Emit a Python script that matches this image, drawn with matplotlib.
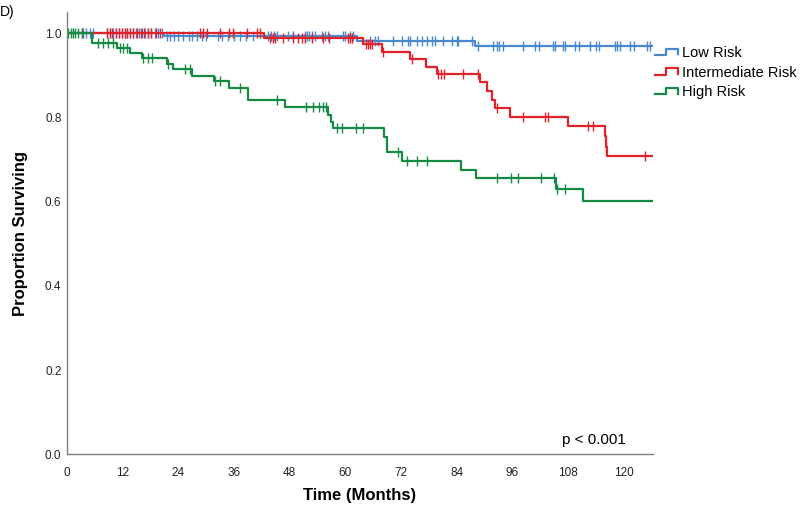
import numpy as np
import matplotlib
matplotlib.use("Agg")
import matplotlib.pyplot as plt
from matplotlib.lines import Line2D
from matplotlib.legend_handler import HandlerBase

plt.rcParams['font.family'] = ['Liberation Sans', 'DejaVu Sans']

# Kaplan-Meier curves (months, proportion surviving)
low_times = [0, 20.9, 62.6, 87.9]
low_surv = [1.0, 0.994, 0.982, 0.969]
low_censor = [3.5, 4.2, 5.0, 5.7, 8.6, 9.3, 10.0, 10.6, 11.2, 11.8, 12.4, 13.0,
              13.5, 14.2, 14.8, 15.5, 16.1, 16.8, 17.5, 18.2, 19.0, 19.7, 20.4,
              21.5, 22.3, 23.0, 24.0, 25.0, 26.3, 27.0, 28.0, 29.2, 30.0, 32.6,
              33.5, 34.6, 36.0, 37.2, 38.5, 40.0, 43.3, 44.0, 44.6, 45.3, 47.6,
              48.7, 51.3, 51.7, 52.2, 52.8, 53.4, 54.9, 55.6, 56.3, 59.5, 60.0,
              61.0, 61.6, 65.3, 66.4, 67.0, 70.3, 72.2, 73.5, 73.9, 75.4, 76.5,
              77.6, 78.7, 79.3, 81.0, 82.9, 84.0, 84.3, 87.2, 88.6, 91.9, 92.6,
              93.2, 94.0, 98.3, 100.9, 101.8, 104.8, 105.2, 107.0, 107.3, 109.5,
              110.4, 112.7, 114.0, 114.7, 118.1, 118.5, 119.2, 121.4, 122.2,
              125.1, 125.6]

int_times = [0, 42.5, 63.9, 67.8, 73.9, 77.4, 79.7, 89.0, 90.5, 91.6, 92.2,
             95.5, 108.0, 115.9, 116.2, 116.4]
int_surv = [1.0, 0.988, 0.974, 0.956, 0.939, 0.921, 0.903, 0.884, 0.863, 0.842,
            0.822, 0.802, 0.780, 0.755, 0.731, 0.708]
int_censor = [3.2, 8.6, 9.2, 9.8, 10.5, 11.2, 11.9, 12.4, 13.0, 13.6, 14.3, 15.0,
              16.0, 16.7, 17.5, 18.2, 19.2, 20.0, 28.7, 29.3, 30.1, 33.0, 35.0,
              35.8, 38.8, 40.9, 41.5, 43.8, 44.3, 44.8, 46.6, 48.7, 49.8, 50.6,
              51.2, 52.7, 55.2, 56.5, 60.6, 61.0, 61.5, 64.4, 64.8, 65.4, 65.8,
              68.2, 74.3, 80.0, 80.7, 81.3, 85.4, 88.5, 92.7, 98.3, 103.0, 103.6,
              112.3, 113.4, 116.2, 124.6]

high_times = [0, 5.4, 10.8, 13.6, 16.1, 21.5, 22.9, 26.9, 31.7, 34.9, 39.1, 46.9,
              56.3, 56.8, 57.3, 68.4, 68.9, 72.3, 84.9, 88.1, 105.3, 111.3]
high_surv = [1.0, 0.978, 0.964, 0.952, 0.941, 0.928, 0.915, 0.899, 0.887, 0.871,
             0.841, 0.824, 0.806, 0.789, 0.774, 0.754, 0.717, 0.697, 0.676, 0.656,
             0.629, 0.602]
high_censor = [0.3, 0.8, 1.2, 1.7, 2.4, 3.2, 6.7, 7.8, 8.8, 9.9, 11.4, 12.1, 12.9,
               16.4, 17.5, 18.3, 21.8, 25.4, 26.5, 31.9, 33.0, 37.3, 45.3, 51.5,
               53.1, 54.3, 55.2, 55.9, 58.1, 59.3, 62.3, 63.9, 71.4, 73.2, 75.4,
               77.5, 92.6, 95.6, 97.1, 102.1, 104.9, 105.7, 107.3]

end_time = 126.0
x_ticks = [0, 12, 24, 36, 48, 60, 72, 84, 96, 108, 120]
y_ticks = [0.0, 0.2, 0.4, 0.6, 0.8, 1.0]

groups = [
    ("Low Risk", low_times, low_surv, low_censor, "#4A88CC"),
    ("Intermediate Risk", int_times, int_surv, int_censor, "#E2222B"),
    ("High Risk", high_times, high_surv, high_censor, "#148A42"),
]


class StepHandler(HandlerBase):
    """Legend key drawn as a small step, like SPSS does"""

    def create_artists(self, legend, orig_handle, xdescent, ydescent,
                       width, height, fontsize, trans):
        x0 = -xdescent
        y0 = -ydescent
        xs = [x0, x0 + 0.48 * width, x0 + 0.48 * width, x0 + width, x0 + width]
        ys = [y0 + 0.2 * height, y0 + 0.2 * height, y0 + 0.8 * height,
              y0 + 0.8 * height, y0 + 0.25 * height]
        line = Line2D(xs, ys, color=orig_handle.get_color(),
                      lw=orig_handle.get_linewidth(), transform=trans)
        return [line]


fig = plt.figure(figsize=(8, 5.07), dpi=100)
ax = fig.add_axes([0.08375, 0.104, 0.7325, 0.8724])

handles = []
for name, t, s, cens, color in groups:
    t_full = list(t) + [end_time]
    s_full = list(s) + [s[-1]]
    line, = ax.step(t_full, s_full, where='post', color=color, lw=1.6, label=name)
    idx = np.searchsorted(t, cens, side='right') - 1
    cens_y = np.array(s)[idx]
    ax.plot(cens, cens_y, linestyle='none', marker='|', markersize=7,
            markeredgewidth=1.0, color=color)
    handles.append(line)

ax.set_xlim(0, 126.3)
ax.set_ylim(0, 1.0506)
ax.set_xticks(x_ticks)
ax.set_yticks(y_ticks)
ax.set_yticklabels([f"{v:.1f}" for v in y_ticks])
ax.tick_params(axis='both', length=0, labelsize=8.5, colors='#222222')
ax.tick_params(axis='x', pad=9)
ax.tick_params(axis='y', pad=4)

for side in ['top', 'right']:
    ax.spines[side].set_visible(False)
for side in ['left', 'bottom']:
    ax.spines[side].set_color('#808080')
    ax.spines[side].set_linewidth(1.0)

ax.set_xlabel("Time (Months)", fontsize=12, fontweight='bold', labelpad=7)
ax.set_ylabel("Proportion Surviving", fontsize=12, fontweight='bold', labelpad=12)

ax.text(120.4, 0.033, "p < 0.001", ha='right', va='center', fontsize=11)
fig.text(0.0, 0.99, "D)", ha='left', va='top', fontsize=10)

fig.legend(handles=handles, labels=[g[0] for g in groups],
           handler_map={Line2D: StepHandler()},
           loc='upper left', bbox_to_anchor=(655 / 800, 1 - 46 / 507),
           frameon=False, fontsize=10.5, handlelength=1.6, handletextpad=0.25,
           labelspacing=0.38, borderpad=0, borderaxespad=0)

fig.savefig("out.png", dpi=100)
